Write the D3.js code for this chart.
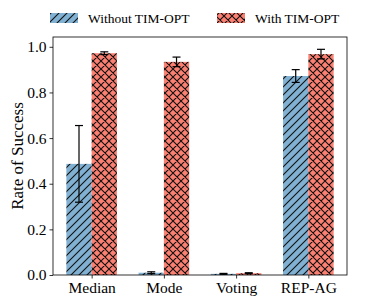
<!DOCTYPE html>
<html>
<head>
<meta charset="utf-8">
<script src="https://d3js.org/d3.v7.min.js"></script>
<style>
  body { margin: 0; background: white; }
  text { font-family: "Liberation Serif", "Times New Roman", serif; fill: black; }
</style>
</head>
<body>
<script>
// data
var methods = ["Median", "Mode", "Voting", "REP-AG"];
var withoutVals = [0.487, 0.010, 0.005, 0.872];
var withoutErr  = [0.168, 0.004, 0.002, 0.028];
var withVals    = [0.972, 0.934, 0.008, 0.968];
var withErr     = [0.006, 0.021, 0.002, 0.021];
var seriesNames = ["Without TIM-OPT", "With TIM-OPT"];
var yTicks = [0.0, 0.2, 0.4, 0.6, 0.8, 1.0];

var W = 366, H = 305;
var margin = { top: 37, right: 19, bottom: 30, left: 53 };
var width = W - margin.left - margin.right;
var height = H - margin.top - margin.bottom;
var barW = 0.35;

var svg = d3.select("body").append("svg")
    .attr("width", W).attr("height", H);

var defs = svg.append("defs");
var hatchBlue = defs.append("pattern")
    .attr("id", "hatchBlue").attr("patternUnits", "userSpaceOnUse")
    .attr("width", 8).attr("height", 8);
hatchBlue.append("rect").attr("width", 8).attr("height", 8).attr("fill", "#80b1d3");
hatchBlue.append("path").attr("d", "M-2,2 L2,-2 M0,8 L8,0 M6,10 L10,6")
    .attr("stroke", "#111").attr("stroke-width", 1.1);

var hatchRed = defs.append("pattern")
    .attr("id", "hatchRed").attr("patternUnits", "userSpaceOnUse")
    .attr("width", 8).attr("height", 8);
hatchRed.append("rect").attr("width", 8).attr("height", 8).attr("fill", "#fb8072");
hatchRed.append("path").attr("d", "M-2,2 L2,-2 M0,8 L8,0 M6,10 L10,6 M-2,6 L2,10 M0,0 L8,8 M6,-2 L10,2")
    .attr("stroke", "#111").attr("stroke-width", 1.1);

var g = svg.append("g").attr("transform", "translate(" + margin.left + "," + margin.top + ")");

var x = d3.scaleLinear().domain([-0.185 - barW, methods.length - 1 + barW + 0.185]).range([0, width]);
var y = d3.scaleLinear().domain([0, 1.043]).range([height, 0]);

var series = [
  { vals: withoutVals, err: withoutErr, fill: "url(#hatchBlue)", off: -barW / 2 },
  { vals: withVals, err: withErr, fill: "url(#hatchRed)", off: barW / 2 }
];

series.forEach(function (s) {
  var bars = g.append("g");
  bars.selectAll("rect").data(methods).enter().append("rect")
      .attr("x", function (d, i) { return x(i + s.off - barW / 2); })
      .attr("width", x(barW) - x(0))
      .attr("y", function (d, i) { return y(s.vals[i]); })
      .attr("height", function (d, i) { return y(0) - y(s.vals[i]); })
      .attr("fill", s.fill);

  var eb = g.append("g").attr("stroke", "black").attr("stroke-width", 1.2);
  methods.forEach(function (d, i) {
    var cx = x(i + s.off);
    var lo = y(s.vals[i] - s.err[i]), hi = y(s.vals[i] + s.err[i]);
    eb.append("line").attr("x1", cx).attr("x2", cx).attr("y1", lo).attr("y2", hi);
    eb.append("line").attr("x1", cx - 4).attr("x2", cx + 4).attr("y1", lo).attr("y2", lo);
    eb.append("line").attr("x1", cx - 4).attr("x2", cx + 4).attr("y1", hi).attr("y2", hi);
  });
});

// axes
var yAxis = d3.axisLeft(y).tickValues(yTicks).tickFormat(d3.format(".1f")).tickSize(3.5).tickPadding(3);
var xAxis = d3.axisBottom(x).tickValues(d3.range(methods.length))
    .tickFormat(function (d) { return methods[d]; }).tickSize(3.5).tickPadding(3);

var ya = g.append("g").call(yAxis);
var xa = g.append("g").attr("transform", "translate(0," + height + ")").call(xAxis);
[ya, xa].forEach(function (a) {
  a.select(".domain").remove();
  a.selectAll("line").attr("stroke", "black").attr("stroke-width", 0.8);
  a.selectAll("text").style("font-family", "'Liberation Serif', serif").style("font-size", "15.5px");
});

g.append("rect").attr("width", width).attr("height", height)
    .attr("fill", "none").attr("stroke", "black").attr("stroke-width", 0.8);

svg.append("text")
    .attr("transform", "translate(17," + (margin.top + height / 2) + ") rotate(-90)")
    .attr("text-anchor", "middle").attr("dy", "0.35em")
    .style("font-size", "17px")
    .text("Rate of Success");

// legend
var legend = svg.append("g");
var legX = [50, 217];
seriesNames.forEach(function (name, i) {
  legend.append("rect").attr("x", legX[i]).attr("y", 13).attr("width", 28).attr("height", 10)
      .attr("fill", series[i].fill);
  legend.append("text").attr("x", legX[i] + 38).attr("y", 18).attr("dy", "0.35em")
      .style("font-size", "13.5px").text(name);
});
</script>
</body>
</html>
